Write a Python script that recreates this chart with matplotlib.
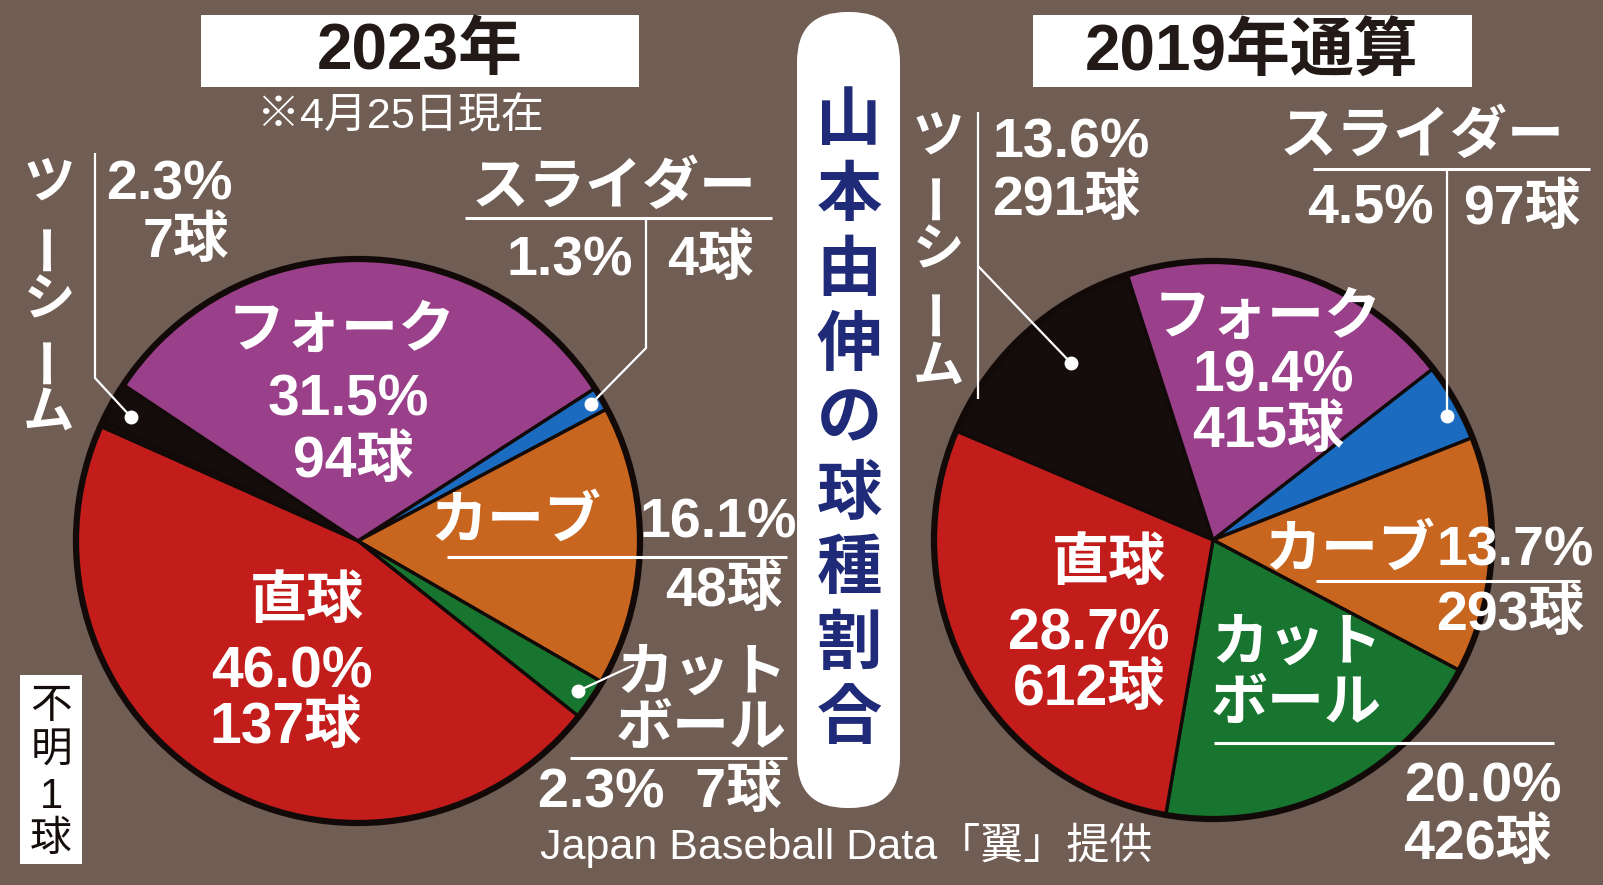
import matplotlib
matplotlib.use("Agg")
import matplotlib.pyplot as plt
import matplotlib.font_manager as fm
from matplotlib.patches import Rectangle, FancyBboxPatch, Circle

# ---- data ----
pitches_2023 = ['不明', 'ツーシーム', 'フォーク', 'スライダー', 'カーブ', 'カットボール', '直球']
counts_2023 = [1, 7, 94, 4, 48, 7, 137]
pct_2023 = [0.3, 2.3, 31.5, 1.3, 16.1, 2.3, 46.0]

pitches_2019 = ['ツーシーム', 'フォーク', 'スライダー', 'カーブ', 'カットボール', '直球']
counts_2019 = [291, 415, 97, 293, 426, 612]
pct_2019 = [13.6, 19.4, 4.5, 13.7, 20.0, 28.7]

colors = {
    '不明': '#150d0b',
    'ツーシーム': '#150d0b',
    'フォーク': '#9a3f8a',
    'スライダー': '#1b6cc0',
    'カーブ': '#c8651f',
    'カットボール': '#17752f',
    '直球': '#c21c1b',
}

BG = '#705d54'
NAVY = '#1f2a78'
W, H = 1603, 885

names = {f.name for f in fm.fontManager.ttflist}
NARROW = 'Liberation Sans Narrow' if 'Liberation Sans Narrow' in names else 'Liberation Sans'
FAM = [NARROW, 'Noto Sans CJK JP', 'DejaVu Sans']
JP = ['Noto Sans CJK JP', 'DejaVu Sans']

NUM_IN = 41    # numbers inside pies
NUM_OUT = 40   # numbers outside pies
KANA = 41


def pct(v):
    return f"{v:.1f}%"


def balls(n):
    return f"{n}球"


fig = plt.figure(figsize=(W / 100, H / 100), dpi=100)
fig.patch.set_facecolor(BG)


def draw_pie(cx, cy, r, values, labels, start):
    ax = fig.add_axes([(cx - r - 6) / W, (H - cy - r - 6) / H, (2 * r + 12) / W, (2 * r + 12) / H])
    ax.set_axis_off()
    ax.pie(values, colors=[colors[p] for p in labels], startangle=start, counterclock=False,
           radius=1, wedgeprops=dict(edgecolor='#120a08', linewidth=2.4))
    ax.add_patch(Circle((0, 0), 1, fill=False, edgecolor='#120a08', lw=4.5))
    lim = (r + 6) / r
    ax.set_xlim(-lim, lim)
    ax.set_ylim(-lim, lim)
    ax.set_aspect('auto')


draw_pie(358, 541, 282, counts_2023, pitches_2023, 156)
draw_pie(1213, 540, 279, counts_2019, pitches_2019, 157)

# overlay for text and pointers, in pixel coords (y down)
ov = fig.add_axes([0, 0, 1, 1])
ov.set_xlim(0, W)
ov.set_ylim(H, 0)
ov.set_axis_off()
ov.patch.set_alpha(0)


def txt(x, y, s, size=44, color='white', ha='center', weight='bold', fam=FAM, rot=0):
    ov.text(x, y, s, fontsize=size, color=color, ha=ha, va='center', fontweight=weight,
            family=fam, rotation=rot)


def vtext(x, ys, chars, size, color='white', weight='bold'):
    for y, c in zip(ys, chars):
        if c == 'ー':
            txt(x, y, c, size, color, weight=weight, fam=JP, rot=90)
        else:
            txt(x, y, c, size, color, weight=weight)


def line(xs, ys, lw=1.6):
    ov.plot(xs, ys, color='white', lw=lw, solid_capstyle='butt')


def dot(x, y):
    ov.plot(x, y, 'o', color='white', ms=9)


# title boxes
ov.add_patch(Rectangle((201, 15), 438, 72, facecolor='white', edgecolor='none'))
txt(420, 52, '2023年', 46, '#231a17')
txt(400, 117, '※4月25日現在', 31, 'white', weight='normal')

ov.add_patch(Rectangle((1033, 15), 439, 72, facecolor='white', edgecolor='none'))
txt(1252, 52, '2019年通算', 46, '#231a17')

# center vertical title
ov.add_patch(FancyBboxPatch((797, 12), 103, 796, boxstyle='round,pad=0,rounding_size=50',
                            facecolor='white', edgecolor='none'))
title = '山本由伸の球種割合'
vtext(849, [123 + i * 74.7 for i in range(len(title))], title, 47, NAVY)

# ---- 2023 labels ----
vtext(49, [184, 245, 302, 358, 414], 'ツーシーム', 37)
line([95, 95, 131], [153, 378, 417])
dot(131, 417)
txt(233, 186, pct(pct_2023[1]), NUM_OUT, ha='right')
txt(229, 243, balls(counts_2023[1]), NUM_OUT, ha='right')

txt(614, 189, pitches_2023[3], KANA)
line([465, 772], [218, 218], lw=2.2)
line([646, 646, 591], [218, 348, 404])
dot(591, 404)
txt(570, 261, pct(pct_2023[3]), NUM_OUT)
txt(710, 261, balls(counts_2023[3]), NUM_OUT)

txt(342, 332, pitches_2023[2], KANA)
txt(348, 401, pct(pct_2023[2]), NUM_IN)
txt(353, 462, balls(counts_2023[2]), NUM_IN)

txt(516, 523, pitches_2023[4], KANA)
line([447, 787], [557, 557], lw=2.2)
txt(718, 524, pct(pct_2023[4]), NUM_OUT)
txt(782, 592, balls(counts_2023[4]), NUM_OUT, ha='right')

txt(307, 603, pitches_2023[6], KANA)
txt(292, 672, pct(pct_2023[6]), NUM_IN)
txt(285, 728, balls(counts_2023[6]), NUM_IN)

line([634, 578], [665, 691])
dot(578, 691)
txt(787, 675, 'カット', KANA, ha='right')
txt(787, 730, 'ボール', KANA, ha='right')
line([570, 787], [758, 758], lw=2.2)
txt(660, 793, f"{pct(pct_2023[5])}  {balls(counts_2023[5])}", NUM_OUT)

ov.add_patch(Rectangle((20, 675), 62, 189, facecolor='white', edgecolor='none'))
vtext(51, [707, 752, 797, 840], '不明' + str(counts_2023[0]) + '球', 30, '#150d0b', weight='normal')

txt(846, 845, 'Japan Baseball Data「翼」提供', 31, 'white', weight='normal')

# ---- 2019 labels ----
vtext(938, [138, 194, 252, 310, 368], 'ツーシーム', 37)
line([978, 978], [112, 399])
line([978, 1071], [266, 363])
dot(1071, 363)
txt(992, 143, pct(pct_2019[0]), NUM_OUT, ha='left')
txt(992, 201, balls(counts_2019[0]), NUM_OUT, ha='left')

txt(1422, 138, pitches_2019[2], KANA)
line([1313, 1590], [169, 169], lw=2.2)
line([1447, 1447], [169, 416])
dot(1447, 416)
txt(1370, 210, pct(pct_2019[2]), NUM_OUT)
txt(1522, 210, balls(counts_2019[2]), NUM_OUT)

txt(1268, 319, pitches_2019[1], KANA)
txt(1273, 377, pct(pct_2019[1]), NUM_IN)
txt(1268, 432, balls(counts_2019[1]), NUM_IN)

txt(1350, 552, pitches_2019[3], KANA)
txt(1515, 552, pct(pct_2019[3]), NUM_OUT)
line([1316, 1580], [581, 581], lw=2.2)
txt(1510, 616, balls(counts_2019[3]), NUM_OUT)

txt(1109, 565, pitches_2019[5], KANA)
txt(1089, 634, pct(pct_2019[5]), NUM_IN)
txt(1089, 690, balls(counts_2019[5]), NUM_IN)

txt(1211, 645, 'カット', KANA, ha='left')
txt(1211, 705, 'ボール', KANA, ha='left')
line([1214, 1554], [743, 743], lw=2.2)
txt(1483, 787, pct(pct_2019[4]), NUM_OUT)
txt(1477, 845, balls(counts_2019[4]), NUM_OUT)

fig.savefig('out.png', dpi=100, facecolor=BG)
